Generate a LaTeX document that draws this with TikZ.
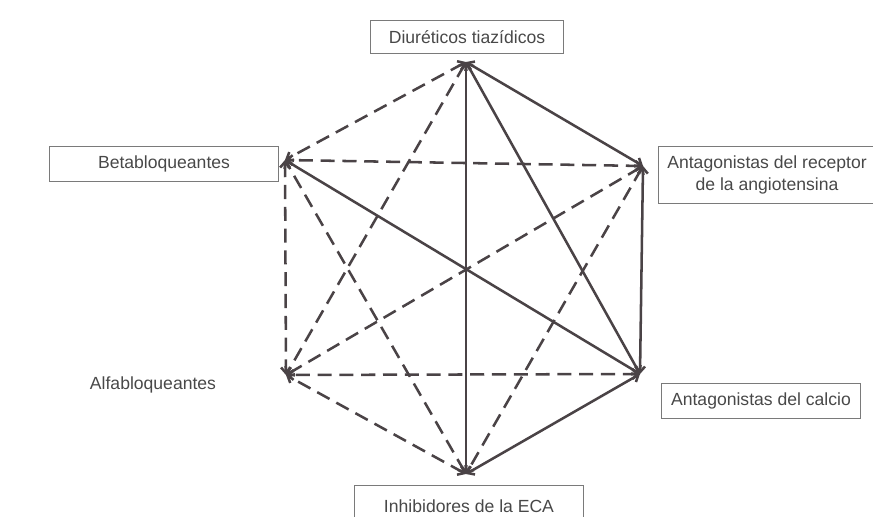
\documentclass[tikz,border=0pt]{standalone}
\usepackage{fontspec}
\setmainfont{Liberation Sans}
\usetikzlibrary{arrows.meta}
\definecolor{linegray}{HTML}{4A4346}
\definecolor{boxgray}{HTML}{7A7A7A}
\definecolor{txtgray}{HTML}{484848}

\begin{document}
\begin{tikzpicture}
 [x=0.025cm, y=-0.025cm,
  every node/.style={text=txtgray, font=\fontsize{12.5}{15.5}\selectfont},
  lbox/.style={draw=boxgray, line width=0.7pt, inner sep=0pt},
  fulllink/.style={draw=linegray, line width=1.8pt, {Straight Barb[length=4pt,width=7pt]}-{Straight Barb[length=4pt,width=7pt]}},
  dashlink/.style={fulllink, dash pattern=on 10pt off 5.5pt}]

  \useasboundingbox (0,0) rectangle (873,517);

  % corners of the hexagon
  \coordinate (tia) at (466,62);
  \coordinate (ara) at (643,166);
  \coordinate (cal) at (640,374);
  \coordinate (eca) at (466,474);
  \coordinate (alf) at (286,375);
  \coordinate (bet) at (285,160);

  % labels
  \node[lbox, minimum width=4.825cm, minimum height=0.8cm] (Ltia) at (467,37) {Diuréticos tiazídicos};
  \node[lbox, minimum width=5.7cm, minimum height=0.875cm] (Lbet) at (164,164) {Betabloqueantes};
  \node[lbox, minimum width=5.4cm, minimum height=1.4cm, align=center] (Lara) at (767,175)
    {Antagonistas del receptor\\de la angiotensina};
  \node[lbox, minimum width=4.95cm, minimum height=0.875cm] (Lcal) at (761,401) {Antagonistas del calcio};
  \node[lbox, minimum width=5.725cm, minimum height=1.05cm] (Leca) at (469,506) {Inhibidores de la ECA};
  \node (Lalf) at (153,385) {Alfabloqueantes};

  % links
  \foreach \a/\b in {tia/ara, tia/cal, tia/eca, ara/cal, bet/cal, cal/eca}
    \draw[fulllink] (\a) -- (\b);
  \foreach \a/\b in {tia/bet, tia/alf, ara/bet, ara/alf, ara/eca,
                     cal/alf, eca/alf, eca/bet, bet/alf}
    \draw[dashlink] (\a) -- (\b);

\end{tikzpicture}
\end{document}
